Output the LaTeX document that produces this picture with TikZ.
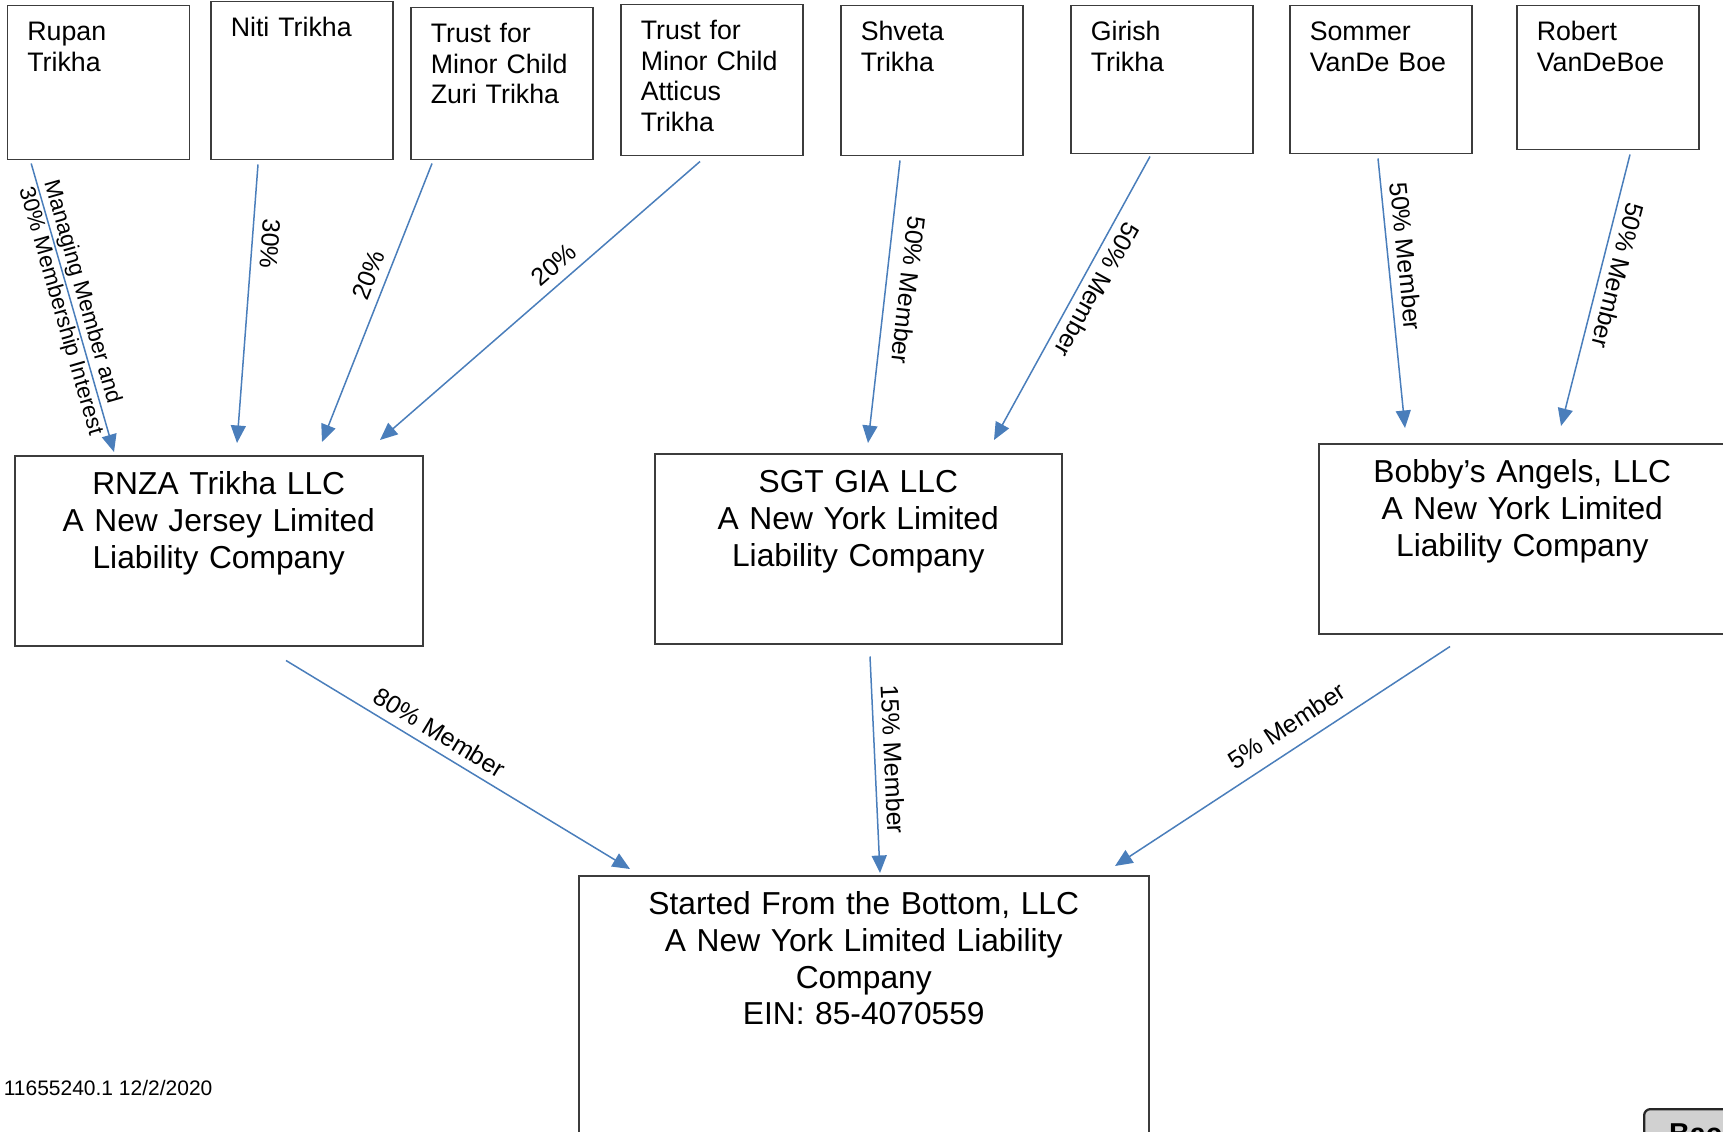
\documentclass[tikz,border=0pt]{standalone}
\usepackage{fontspec}
\setmainfont{Liberation Sans}
\usetikzlibrary{arrows.meta}

\definecolor{ownblue}{HTML}{4A7EBB}
\definecolor{boxline}{HTML}{3C3C3C}

\begin{document}
\begin{tikzpicture}[
    x=0.4pt, y=-0.4pt,
    person/.style={draw=boxline, line width=0.6pt, anchor=north west, align=left,
        font=\fontsize{10.7}{12.2}\selectfont, inner xsep=8pt, inner ysep=8pt,
        text width=56.8pt, text height=6pt, text depth={#1*0.4pt-22pt}},
    person/.default=152,
    company/.style={draw=boxline, line width=0.6pt, anchor=north west, align=center,
        font=\fontsize{12.7}{14.7}\selectfont, inner xsep=0pt, inner ysep=7.2pt,
        text width=#1, text height=8.3pt, text depth=53.3pt},
    stake/.style={draw=ownblue, line width=0.6pt, -{Triangle[length=7pt, width=6pt]}},
    pct/.style={font=\fontsize{10}{11.5}\selectfont, sloped, text=black}
]
\useasboundingbox (0,0) rectangle (1723,1131);
\clip (0,0) rectangle (1723,1131);

% Owners
\node[person=154] (rupan) at (6.6,5) {Rupan\\Trikha};
\node[person=158] (niti) at (210,1) {Niti Trikha};
\node[person=152] (zuri) at (410,7) {Trust for\\Minor Child\\Zuri Trikha};
\node[person=151] (atticus) at (620,4) {Trust for\\Minor Child\\Atticus\\Trikha};
\node[person=150] (shveta) at (840,5) {Shveta\\Trikha};
\node[person=148] (girish) at (1070,5) {Girish\\Trikha};
\node[person=148] (sommer) at (1289,5) {Sommer\\VanDe Boe};
\node[person=144] (robert) at (1516,5) {Robert\\VanDeBoe};

% Holding companies
\node[company=163.2pt] (rnza) at (14,455) {RNZA Trikha LLC\\A New Jersey Limited\\Liability Company};
\node[company=162.8pt] (sgt) at (654,453) {SGT GIA LLC\\A New York Limited\\Liability Company};
\node[company=162.8pt] (bobby) at (1318,443) {Bobby’s Angels, LLC\\A New York Limited\\Liability Company};

% Bottom company
\node[company=228pt, text depth=110pt] (sftb) at (578,875)
    {Started From the Bottom, LLC\\A New York Limited Liability\\Company\\EIN: 85-4070559};

% Footer and button
\node[anchor=base west, inner sep=0pt, font=\fontsize{8.4}{10}\selectfont] (docid) at (3.3,1095) {11655240.1 12/2/2020};
\node[draw=black!85, line width=0.9pt, fill=black!18, rounded corners=2.5pt, anchor=north west,
    font=\bfseries\fontsize{11.5}{13}\selectfont, inner xsep=10pt, inner ysep=5.6pt,
    text height=8.3pt, text depth=20pt] (back) at (1643,1108) {Back};

% Interests in RNZA
\draw[stake] ([shift={(24.6,3)}]rupan.south west) -- ([shift={(100,-3)}]rnza.north west)
    node[pct, pos=0.5, align=left, font=\fontsize{9}{10.4}\selectfont] (lrupan) {Managing Member and\\30\% Membership Interest};
\draw[stake] ([shift={(48,4)}]niti.south west) -- ([shift={(223,-12)}]rnza.north west)
    node[pct, allow upside down, above, pos=0.28] (lniti) {30\%};
\draw[stake] ([shift={(22,3)}]zuri.south west) -- ([shift={(308,-13)}]rnza.north west)
    node[pct, above, pos=0.425] (lzuri) {20\%};
\draw[stake] ([shift={(80,5)}]atticus.south west) -- ([shift={(366,-15)}]rnza.north west)
    node[pct, above, pos=0.42] (latticus) {20\%};

% Interests in SGT
\draw[stake] ([shift={(60,4)}]shveta.south west) -- ([shift={(214,-10)}]sgt.north west)
    node[pct, allow upside down, above=2pt, pos=0.45] (lshveta) {50\% Member};
\draw[stake] ([shift={(80,2)}]girish.south west) -- ([shift={(340,-13)}]sgt.north west)
    node[pct, allow upside down, above, pos=0.44] (lgirish) {50\% Member};

% Interests in Bobby's
\draw[stake] ([shift={(89,4)}]sommer.south west) -- ([shift={(87,-15)}]bobby.north west)
    node[pct, above, pos=0.37] (lsommer) {50\% Member};
\draw[stake] ([shift={(114,4)}]robert.south west) -- ([shift={(243,-17)}]bobby.north west)
    node[pct, allow upside down, above, pos=0.43] (lrobert) {50\% Member};

% Interests in the bottom company
\draw[stake] ([shift={(272,14)}]rnza.south west) -- ([shift={(52,-6)}]sftb.north west)
    node[pct, above, pos=0.42] (lrnza) {80\% Member};
\draw[stake] ([shift={(216,12)}]sgt.south west) -- ([shift={(302,-2)}]sftb.north west)
    node[pct, above, pos=0.48] (lsgt) {15\% Member};
\draw[stake] ([shift={(132,12)}]bobby.south west) -- ([shift={(537,-9)}]sftb.north west)
    node[pct, above=2pt, pos=0.45] (lbobby) {5\% Member};
\end{tikzpicture}
\end{document}
